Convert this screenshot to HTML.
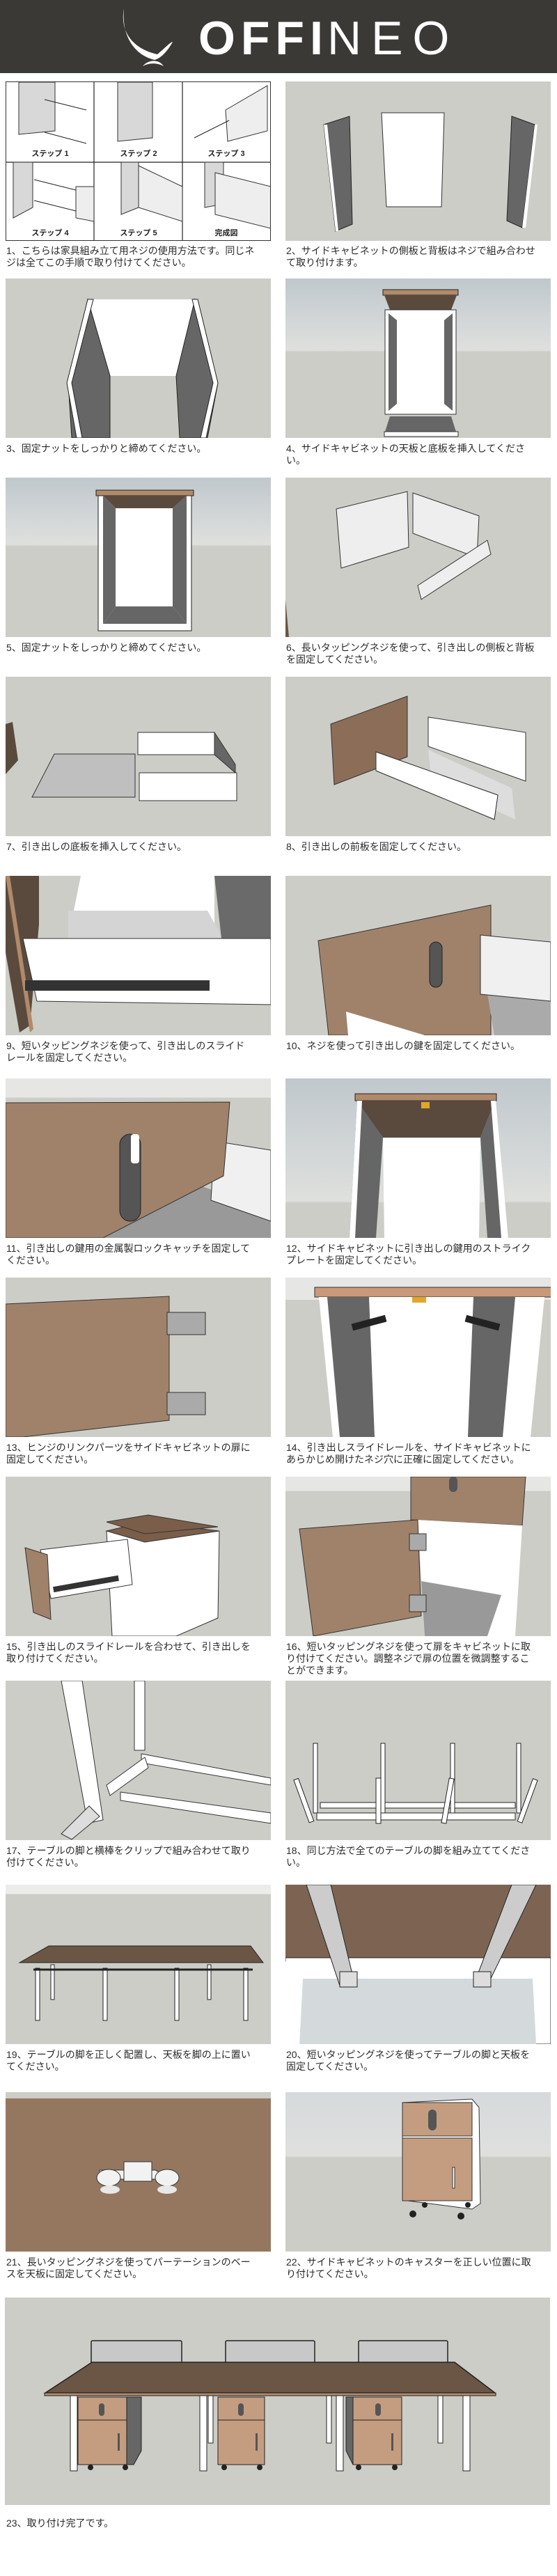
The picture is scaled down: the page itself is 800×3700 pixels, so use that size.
<!DOCTYPE html>
<html><head><meta charset="utf-8"><style>
*{margin:0;padding:0;box-sizing:border-box}
body{width:800px;height:3700px;background:#fff;position:relative;overflow:hidden;font-family:"Liberation Sans","Noto Sans CJK JP",sans-serif;color:#222}
.hd{position:absolute;left:0;top:0;width:800px;height:105px;background:#3b3936}
.p{position:absolute;width:381px;height:229px;overflow:hidden;background:#cdcdc8}
.p svg{display:block}
.c{position:absolute;width:380px;font-size:14px;line-height:17px;color:#2a2a2a}
</style></head><body>
<div class="hd">
<svg width="800" height="105" style="position:absolute;left:0;top:0">
<path d="M178 12 C172 45 190 70 226 78 C236 70 245 60 248 60 C240 75 230 84 222 86 C196 80 174 55 178 12Z" fill="#fff"/>
<path d="M205 95 C212 86 228 84 235 95 C226 90 214 90 205 95Z" fill="#fff"/>
<text x="285" y="78" font-family="Liberation Sans" font-weight="bold" font-size="68" fill="#fff" letter-spacing="8">OFFI</text>
<text x="470" y="78" font-family="Liberation Sans" font-size="68" fill="#fff" letter-spacing="14" style="font-weight:100">NEO</text>
</svg>
</div>

<!-- Row 1 -->
<div class="p" style="left:8px;top:117px;background:#fff;border:1px solid #333">
<svg width="381" height="229" viewBox="0 0 381 229">
<g stroke="#222" fill="none" stroke-width="1.2">
<line x1="126" y1="0" x2="126" y2="229"/><line x1="253" y1="0" x2="253" y2="229"/><line x1="0" y1="115" x2="381" y2="115"/>
</g>
<g fill="#d8d8d8" stroke="#333">
<path d="M18 0 L70 0 L70 70 L18 75Z"/><path d="M160 0 L210 0 L210 80 L160 85Z"/>
<path d="M315 40 L375 5 L375 70 L318 85Z" fill="#eee"/>
<path d="M10 115 L38 115 L38 180 L10 195Z"/><path d="M100 150 L126 150 L126 200 L100 195Z" fill="#eee"/>
<path d="M165 115 L190 115 L190 180 L165 190Z"/><path d="M190 120 L253 150 L253 200 L190 180Z" fill="#eee"/>
<path d="M285 115 L312 115 L312 175 L285 180Z"/><path d="M300 130 L380 150 L380 210 L300 190Z" fill="#eee"/>
</g>
<g stroke="#222" stroke-width="1"><line x1="55" y1="25" x2="115" y2="40"/><line x1="55" y1="72" x2="115" y2="88"/><line x1="270" y1="80" x2="320" y2="55"/><line x1="40" y1="140" x2="100" y2="155"/><line x1="40" y1="170" x2="100" y2="185"/></g>
<g font-size="11" font-weight="bold" fill="#222" text-anchor="middle" font-family="Liberation Sans,Noto Sans CJK JP,sans-serif">
<text x="63" y="106">ステップ 1</text><text x="190" y="106">ステップ 2</text><text x="316" y="106">ステップ 3</text>
<text x="63" y="220">ステップ 4</text><text x="190" y="220">ステップ 5</text><text x="316" y="220">完成図</text></g>
</svg></div>
<div class="p" style="left:410px;top:117px">
<svg width="381" height="229"><path d="M55 62 L92 50 L96 205 L72 215Z" fill="#666" stroke="#222"/><path d="M55 62 L60 62 L76 215 L72 215Z" fill="#fff"/>
<path d="M138 45 L228 45 L224 180 L145 180Z" fill="#fff" stroke="#333"/>
<path d="M325 50 L358 62 L340 210 L318 200Z" fill="#666" stroke="#222"/><path d="M358 62 L362 62 L345 210 L340 210Z" fill="#fff"/></svg></div>
<div class="c" style="left:9px;top:352px">1、こちらは家具組み立て用ネジの使用方法です。同じネ<br>ジは全てこの手順で取り付けてください。</div>
<div class="c" style="left:411px;top:352px">2、サイドキャビネットの側板と背板はネジで組み合わせ<br>て取り付けます。</div>

<!-- Row 2 -->
<div class="p" style="left:8px;top:400px">
<svg width="381" height="229"><path d="M118 30 L272 30 L272 140 L150 140Z" fill="#fff"/><path d="M118 30 L150 140 L150 229 L95 229 L90 150Z" fill="#666" stroke="#222"/><path d="M272 30 L305 150 L290 229 L250 229 L245 140Z" fill="#666" stroke="#222"/><path d="M118 30 L126 30 L95 150 L110 229 L102 229 L88 150Z" fill="#fff" stroke="#222"/><path d="M268 30 L276 30 L305 150 L288 229 L280 229 L298 150Z" fill="#fff" stroke="#222"/></svg></div>
<div class="p" style="left:410px;top:400px;background:linear-gradient(#c0c8cd,#dfe0de 45%,#cdcdc8 46%)">
<svg width="381" height="229"><rect x="140" y="16" width="108" height="8" fill="#b08a6a" stroke="#222"/><path d="M142 24 L246 24 L238 45 L150 45Z" fill="#5a4a3e"/><rect x="143" y="45" width="102" height="150" fill="#fff" stroke="#333"/><path d="M148 50 L160 60 L160 180 L148 190Z" fill="#666"/><path d="M240 50 L228 60 L228 180 L240 190Z" fill="#666"/><path d="M150 198 L238 198 L245 220 L143 220Z" fill="#666"/><rect x="142" y="220" width="106" height="7" fill="#fff" stroke="#333"/></svg></div>
<div class="c" style="left:9px;top:636px">3、固定ナットをしっかりと締めてください。</div>
<div class="c" style="left:411px;top:636px">4、サイドキャビネットの天板と底板を挿入してくださ<br>い。</div>

<!-- Row 3 -->
<div class="p" style="left:8px;top:686px;background:linear-gradient(#c0c8cd,#dfe0de 42%,#cdcdc8 43%)">
<svg width="381" height="229"><rect x="130" y="18" width="140" height="8" fill="#b08a6a" stroke="#222"/><rect x="133" y="26" width="134" height="194" fill="#fff" stroke="#222"/><path d="M140 26 L260 26 L240 44 L158 44Z" fill="#5a4a3e"/><path d="M140 26 L158 44 L158 185 L140 210Z" fill="#666"/><path d="M260 26 L240 44 L240 185 L260 210Z" fill="#666"/><path d="M158 185 L240 185 L260 210 L140 210Z" fill="#666"/></svg></div>
<div class="p" style="left:410px;top:686px">
<svg width="381" height="229"><path d="M73 45 L175 20 L177 100 L80 130Z" fill="#eee" stroke="#333"/><path d="M183 22 L278 55 L275 115 L183 80Z" fill="#eee" stroke="#333"/><path d="M190 155 L290 90 L295 110 L195 175Z" fill="#eee" stroke="#333"/><path d="M0 175 L5 229 L0 229Z" fill="#6b5545"/></svg></div>
<div class="c" style="left:9px;top:922px">5、固定ナットをしっかりと締めてください。</div>
<div class="c" style="left:411px;top:922px">6、長いタッピングネジを使って、引き出しの側板と背板<br>を固定してください。</div>

<!-- Row 4 -->
<div class="p" style="left:8px;top:972px">
<svg width="381" height="229"><path d="M0 68 L10 65 L18 120 L0 140Z" fill="#5a4a3e"/><path d="M38 173 L70 111 L186 111 L186 173Z" fill="#bfbfbf" stroke="#333"/><rect x="190" y="80" width="110" height="32" fill="#fff" stroke="#333"/><path d="M300 80 L330 126 L330 138 L300 112Z" fill="#666" stroke="#333"/><rect x="192" y="138" width="140" height="40" fill="#fff" stroke="#333"/></svg></div>
<div class="p" style="left:410px;top:972px">
<svg width="381" height="229"><path d="M65 68 L175 28 L175 115 L70 155Z" fill="#8c6e58" stroke="#333"/><path d="M205 58 L345 80 L345 150 L205 100Z" fill="#fff" stroke="#333"/><path d="M205 105 L325 160 L330 205 L210 150Z" fill="#ddd"/><path d="M130 108 L305 170 L300 205 L130 135Z" fill="#fff" stroke="#333"/><path d="M130 108 L305 170 L300 205 L130 135Z" fill="#fff" stroke="#333"/></svg></div>
<div class="c" style="left:9px;top:1208px">7、引き出しの底板を挿入してください。</div>
<div class="c" style="left:411px;top:1208px">8、引き出しの前板を固定してください。</div>

<!-- Row 5 -->
<div class="p" style="left:8px;top:1258px">
<svg width="381" height="229"><path d="M0 0 L48 0 L48 70 L35 215 L20 225 L0 110Z" fill="#5a4a3e"/><path d="M0 0 L6 0 L40 220 L35 225Z" fill="#b08a6a"/><path d="M108 0 L300 0 L300 90 L90 90Z" fill="#fff"/><path d="M90 50 L290 50 L312 90 L90 90Z" fill="#d4d4d4"/><path d="M300 0 L381 0 L381 90 L310 90Z" fill="#6a6a6a"/><path d="M25 90 L381 90 L381 185 L45 180Z" fill="#fff" stroke="#333"/><rect x="28" y="150" width="265" height="15" fill="#333"/></svg></div>
<div class="p" style="left:410px;top:1258px">
<svg width="381" height="229"><path d="M47 93 L295 42 L295 229 L62 229Z" fill="#a0826a" stroke="#333"/><rect x="207" y="95" width="18" height="65" rx="9" fill="#555" stroke="#222"/><path d="M280 110 L381 100 L381 229 L300 229Z" fill="#aaa"/><path d="M280 85 L381 95 L381 180 L280 170Z" fill="#f0f0f0" stroke="#333"/><path d="M87 195 L200 229 L90 229Z" fill="#fff"/></svg></div>
<div class="c" style="left:9px;top:1494px">9、短いタッピングネジを使って、引き出しのスライド<br>レールを固定してください。</div>
<div class="c" style="left:411px;top:1494px">10、ネジを使って引き出しの鍵を固定してください。</div>

<!-- Row 6 -->
<div class="p" style="left:8px;top:1549px;background:linear-gradient(#e6e6e4,#e6e6e4 12%,#cdcdc8 12%)">
<svg width="381" height="229"><path d="M0 200 L240 140 L381 190 L381 229 L0 229Z" fill="#999"/><path d="M300 90 L381 103 L381 205 L295 175Z" fill="#f0f0f0" stroke="#333"/><path d="M0 35 L322 34 L313 140 L140 229 L0 229Z" fill="#a0826a" stroke="#333"/><rect x="164" y="80" width="30" height="125" rx="15" fill="#555" stroke="#222"/><rect x="180" y="80" width="12" height="42" rx="4" fill="#fff"/></svg></div>
<div class="p" style="left:410px;top:1549px;background:linear-gradient(#c0c8cd,#dfe0de 77%,#cdcdc8 78%)">
<svg width="381" height="229"><rect x="100" y="22" width="203" height="10" fill="#b08a6a" stroke="#222"/><path d="M102 32 L301 32 L280 85 L140 85Z" fill="#5a4a3e"/><path d="M140 85 L280 85 L278 229 L142 229Z" fill="#fff"/><path d="M103 32 L140 85 L130 229 L92 229Z" fill="#666"/><path d="M301 32 L280 85 L290 229 L320 229Z" fill="#666"/><path d="M103 32 L110 32 L100 229 L92 229Z" fill="#fff"/><path d="M295 32 L302 32 L320 229 L310 229Z" fill="#fff"/><rect x="195" y="34" width="12" height="9" fill="#e0a82a"/></svg></div>
<div class="c" style="left:9px;top:1785px">11、引き出しの鍵用の金属製ロックキャッチを固定して<br>ください。</div>
<div class="c" style="left:411px;top:1785px">12、サイドキャビネットに引き出しの鍵用のストライク<br>プレートを固定してください。</div>

<!-- Row 7 -->
<div class="p" style="left:8px;top:1835px">
<svg width="381" height="229"><path d="M0 38 L235 27 L235 205 L25 229 L0 229Z" fill="#a0826a" stroke="#333"/><rect x="232" y="50" width="55" height="32" fill="#aaa" stroke="#333"/><rect x="232" y="165" width="55" height="32" fill="#aaa" stroke="#333"/></svg></div>
<div class="p" style="left:410px;top:1835px;background:linear-gradient(#e6e6e4,#e6e6e4 14%,#cdcdc8 14%)">
<svg width="381" height="229"><rect x="42" y="14" width="340" height="14" fill="#c89a7a" stroke="#333"/><path d="M48 28 L372 28 L352 229 L68 229Z" fill="#fff"/><path d="M60 28 L120 28 L128 229 L78 229Z" fill="#666"/><path d="M270 28 L330 28 L312 229 L262 229Z" fill="#666"/><rect x="95" y="60" width="50" height="10" fill="#222" transform="rotate(-15 120 65)"/><rect x="258" y="60" width="50" height="10" fill="#222" transform="rotate(15 283 65)"/><rect x="182" y="28" width="20" height="8" fill="#e0a82a"/></svg></div>
<div class="c" style="left:9px;top:2071px">13、ヒンジのリンクパーツをサイドキャビネットの扉に<br>固定してください。</div>
<div class="c" style="left:411px;top:2071px">14、引き出しスライドレールを、サイドキャビネットに<br>あらかじめ開けたネジ穴に正確に固定してください。</div>

<!-- Row 8 -->
<div class="p" style="left:8px;top:2121px">
<svg width="381" height="229"><path d="M145 78 L307 78 L305 203 L245 229 L153 229Z" fill="#fff" stroke="#333"/><path d="M145 78 L200 65 L307 78 L200 94Z" fill="#7a5e4a" stroke="#333"/><path d="M145 65 L205 55 L305 72 L200 82Z" fill="#7a5e4a" stroke="#333"/><path d="M50 105 L175 90 L182 155 L65 175Z" fill="#fff" stroke="#333"/><path d="M28 102 L60 112 L65 205 L40 195Z" fill="#a0826a" stroke="#333"/><rect x="68" y="150" width="95" height="8" fill="#333" transform="rotate(-10 115 154)"/></svg></div>
<div class="p" style="left:410px;top:2121px;background:linear-gradient(#e6e6e4,#e6e6e4 9%,#cdcdc8 9%)">
<svg width="381" height="229"><path d="M180 0 L345 0 L340 70 L180 62Z" fill="#a0826a" stroke="#333"/><path d="M190 62 L340 70 L330 229 L200 229Z" fill="#fff"/><path d="M195 150 L310 170 L290 229 L200 229Z" fill="#999"/><path d="M20 75 L190 62 L195 200 L40 229Z" fill="#a0826a" stroke="#333"/><rect x="178" y="82" width="24" height="24" fill="#aaa" stroke="#333"/><rect x="178" y="170" width="24" height="24" fill="#aaa" stroke="#333"/><rect x="235" y="0" width="12" height="22" rx="6" fill="#555"/></svg></div>
<div class="c" style="left:9px;top:2357px">15、引き出しのスライドレールを合わせて、引き出しを<br>取り付けてください。</div>
<div class="c" style="left:411px;top:2357px">16、短いタッピングネジを使って扉をキャビネットに取<br>り付けてください。調整ネジで扉の位置を微調整するこ<br>とができます。</div>

<!-- Row 9 -->
<div class="p" style="left:8px;top:2414px">
<svg width="381" height="229"><path d="M80 0 L110 0 L140 200 L118 205Z" fill="#fff" stroke="#333"/><path d="M185 0 L200 0 L200 100 L185 100Z" fill="#fff" stroke="#333"/><path d="M80 220 L120 180 L135 195 L95 228Z" fill="#ddd" stroke="#333"/><path d="M195 105 L381 140 L381 150 L195 118Z" fill="#fff" stroke="#333"/><path d="M165 160 L381 190 L381 205 L165 172Z" fill="#fff" stroke="#333"/><path d="M145 150 L200 110 L205 125 L150 165Z" fill="#fff" stroke="#333"/></svg></div>
<div class="p" style="left:410px;top:2414px">
<svg width="381" height="229" stroke="#222" fill="#fff"><path d="M45 190 L330 190 L330 200 L45 200Z"/><path d="M50 175 L330 175 L330 183 L50 183Z"/><rect x="40" y="90" width="6" height="100"/><rect x="137" y="90" width="6" height="100"/><rect x="237" y="90" width="6" height="100"/><rect x="332" y="90" width="6" height="100"/><rect x="22" y="140" width="7" height="65" transform="rotate(-20 25 170)"/><rect x="130" y="140" width="7" height="65"/><rect x="230" y="140" width="7" height="65" transform="rotate(10 233 170)"/><rect x="345" y="140" width="7" height="65" transform="rotate(20 348 170)"/></svg></div>
<div class="c" style="left:9px;top:2650px">17、テーブルの脚と横棒をクリップで組み合わせて取り<br>付けてください。</div>
<div class="c" style="left:411px;top:2650px">18、同じ方法で全てのテーブルの脚を組み立ててくださ<br>い。</div>

<!-- Row 10 -->
<div class="p" style="left:8px;top:2707px;background:linear-gradient(#ececea,#ececea 6%,#cdcdc8 6%)">
<svg width="381" height="229"><path d="M20 112 L62 88 L352 88 L370 112Z" fill="#6b5545" stroke="#222"/><g fill="#fff" stroke="#222"><rect x="43" y="120" width="6" height="75"/><rect x="140" y="120" width="6" height="75"/><rect x="243" y="120" width="6" height="75"/><rect x="342" y="120" width="6" height="75"/><rect x="65" y="115" width="5" height="50"/><rect x="290" y="115" width="5" height="50"/></g><line x1="40" y1="122" x2="355" y2="122" stroke="#222" stroke-width="3"/></svg></div>
<div class="p" style="left:410px;top:2707px;background:#7d6452">
<svg width="381" height="229"><path d="M0 105 L381 105 L381 229 L0 229Z" fill="#fff" stroke="#222"/><path d="M25 135 L355 135 L360 229 L20 229Z" fill="#d4d9dc"/><path d="M0 110 L25 135 L20 229 L0 229Z" fill="#fff"/><path d="M30 0 L65 0 L100 145 L78 145Z" fill="#ccc" stroke="#222"/><path d="M325 0 L360 0 L290 145 L270 145Z" fill="#ccc" stroke="#222"/><rect x="78" y="125" width="25" height="22" fill="#ddd" stroke="#222"/><rect x="270" y="125" width="25" height="22" fill="#ddd" stroke="#222"/></svg></div>
<div class="c" style="left:9px;top:2943px">19、テーブルの脚を正しく配置し、天板を脚の上に置い<br>てください。</div>
<div class="c" style="left:411px;top:2943px">20、短いタッピングネジを使ってテーブルの脚と天板を<br>固定してください。</div>

<!-- Row 11 -->
<div class="p" style="left:8px;top:3005px;background:linear-gradient(#cdcdc8,#cdcdc8 4%,#957760 4%)">
<svg width="381" height="229"><path d="M0 10 L381 10 L381 229 L0 229Z" fill="#957760"/><path d="M135 112 L215 112 L240 125 L135 125Z" fill="#f2f2f2" stroke="#333"/><ellipse cx="148" cy="123" rx="17" ry="12" fill="#f2f2f2" stroke="#333"/><ellipse cx="232" cy="123" rx="17" ry="12" fill="#f2f2f2" stroke="#333"/><rect x="170" y="100" width="40" height="28" fill="#f2f2f2" stroke="#333"/><ellipse cx="150" cy="140" rx="14" ry="6" fill="#e8e8e8"/><ellipse cx="232" cy="140" rx="14" ry="6" fill="#e8e8e8"/></svg></div>
<div class="p" style="left:410px;top:3005px;background:linear-gradient(#d6dadc,#dfe0de 40%,#cdcdc8 41%)">
<svg width="381" height="229"><path d="M168 15 L268 10 L278 22 L280 160 L268 168 L168 155Z" fill="#fff" stroke="#333"/><rect x="168" y="15" width="100" height="48" fill="#c49d80" stroke="#333"/><rect x="168" y="66" width="100" height="90" fill="#c49d80" stroke="#333"/><rect x="205" y="25" width="12" height="30" rx="6" fill="#555"/><rect x="240" y="108" width="3" height="30" fill="#fff" stroke="#333"/><g fill="#222"><circle cx="183" cy="175" r="5"/><circle cx="200" cy="162" r="4"/><circle cx="252" cy="178" r="5"/><circle cx="262" cy="162" r="4"/></g></svg></div>
<div class="c" style="left:9px;top:3241px">21、長いタッピングネジを使ってパーテーションのベー<br>スを天板に固定してください。</div>
<div class="c" style="left:411px;top:3241px">22、サイドキャビネットのキャスターを正しい位置に取<br>り付けてください。</div>

<!-- Row 12 -->
<div class="p" style="left:7px;top:3300px;width:783px;height:298px">
<svg width="783" height="298"><g fill="#c8c8c8" stroke="#222" stroke-width="1.5"><rect x="124" y="62" width="130" height="50" rx="2"/><rect x="317" y="62" width="128" height="50" rx="2"/><rect x="508" y="62" width="128" height="50" rx="2"/></g>
<path d="M58 137 L125 93 L646 93 L704 137Z" fill="#6b5545" stroke="#222" stroke-width="1.5"/><rect x="57" y="137" width="648" height="4" fill="#b08a6a" stroke="#222"/>
<g fill="#fff" stroke="#222"><rect x="94" y="141" width="10" height="108"/><rect x="280" y="141" width="10" height="108"/><rect x="476" y="141" width="10" height="108"/><rect x="658" y="141" width="10" height="108"/><rect x="292" y="141" width="7" height="68"/><rect x="462" y="141" width="7" height="68"/><rect x="622" y="141" width="7" height="68"/></g>
<g stroke="#222"><rect x="105" y="143" width="70" height="97" fill="#c49d80"/><path d="M175 143 L196 143 L196 220 L185 240 L175 240Z" fill="#666"/><rect x="306" y="143" width="67" height="97" fill="#c49d80"/><rect x="500" y="143" width="70" height="97" fill="#c49d80"/><path d="M500 143 L490 143 L490 220 L500 240Z" fill="#666"/>
<line x1="105" y1="176" x2="175" y2="176"/><line x1="306" y1="176" x2="373" y2="176"/><line x1="500" y1="176" x2="570" y2="176"/></g>
<g fill="#555"><rect x="135" y="152" width="8" height="18" rx="4"/><rect x="335" y="152" width="8" height="18" rx="4"/><rect x="532" y="152" width="8" height="18" rx="4"/><rect x="162" y="195" width="3" height="25"/><rect x="360" y="195" width="3" height="25"/><rect x="555" y="195" width="3" height="25"/></g>
<g fill="#222"><circle cx="123" cy="244" r="4"/><circle cx="173" cy="244" r="4"/><circle cx="315" cy="244" r="4"/><circle cx="366" cy="244" r="4"/><circle cx="508" cy="244" r="4"/><circle cx="560" cy="244" r="4"/></g></svg></div>
<div class="c" style="left:9px;top:3616px">23、取り付け完了です。</div>
</body></html>
